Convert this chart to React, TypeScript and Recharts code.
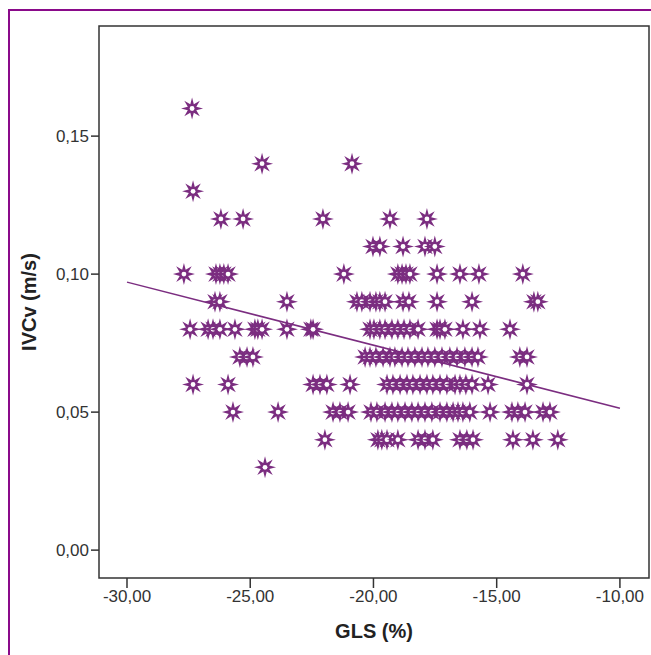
import { ScatterChart, Scatter, XAxis, YAxis, ReferenceArea, ReferenceLine } from 'recharts';

// GLS (%) values of the cases, grouped by their IVCv (m/s) level
const gls016 = [-27.36];
const gls014 = [-24.52, -20.87];
const gls013 = [-27.32];
const gls012 = [-26.19, -25.29, -22.05, -19.33, -17.83];
const gls011 = [-20.02, -19.74, -18.8, -17.91, -17.51];
const gls010 = [-27.69, -26.39, -26.23, -26.07, -25.9, -21.2, -19.01, -18.84, -18.68, -18.52, -17.42, -16.49, -15.72, -13.94];
const gls009 = [-26.43, -26.23, -23.51, -20.67, -20.47, -20.14, -19.9, -19.74, -19.53, -18.8, -18.56, -17.42, -16.0, -13.49, -13.33];
const gls008 = [-27.44, -26.71, -26.51, -26.23, -25.62, -24.81, -24.69, -24.52, -23.51, -22.54, -22.45, -20.14, -19.98, -19.74, -19.53, -19.25, -19.01, -18.76, -18.52, -18.19, -17.42, -17.3, -17.1, -16.37, -15.68, -14.46];
const gls007 = [-25.42, -25.13, -24.89, -20.34, -20.14, -19.9, -19.61, -19.33, -19.13, -18.84, -18.6, -18.32, -18.03, -17.79, -17.51, -17.22, -16.9, -16.61, -16.29, -16.0, -15.76, -14.06, -13.77];
const gls006 = [-27.32, -25.9, -22.45, -22.17, -21.89, -20.95, -19.45, -19.21, -18.92, -18.64, -18.4, -18.11, -17.83, -17.59, -17.3, -17.02, -16.69, -16.49, -16.25, -16.0, -15.35, -13.77];
const gls005 = [-25.7, -23.87, -21.64, -21.36, -21.03, -20.1, -19.86, -19.53, -19.25, -19.01, -18.72, -18.44, -18.19, -17.91, -17.63, -17.3, -17.02, -16.77, -16.57, -16.37, -16.09, -15.27, -14.38, -14.14, -13.85, -13.12, -12.84];
const gls004 = [-21.97, -19.82, -19.66, -19.45, -19.01, -18.19, -17.91, -17.59, -16.49, -16.21, -15.96, -14.34, -13.53, -12.52];
const gls003 = [-24.4];

const ivcvLevels = [0.16, 0.14, 0.13, 0.12, 0.11, 0.1, 0.09, 0.08, 0.07, 0.06, 0.05, 0.04, 0.03];
const glsByLevel = [gls016, gls014, gls013, gls012, gls011, gls010, gls009, gls008, gls007, gls006, gls005, gls004, gls003];

// fit line end points
const fitX = [-30, -10];
const fitY = [0.0971, 0.0514];

const xTicks = [-30, -25, -20, -15, -10];
const yTicks = [0, 0.05, 0.1, 0.15];
const X_DOMAIN = [-31.136, -8.82];
const Y_DOMAIN = [-0.0101, 0.1899];

const points = glsByLevel.flatMap((list, i) => list.map(x => ({ x, y: ivcvLevels[i] })));

const PURPLE = '#7b2d80';
const FONT = '"Liberation Sans", Arial, sans-serif';

const fmt = (v: number) => v.toFixed(2).replace('.', ',');

function starPath(cx: number, cy: number, outer: number, inner: number) {
  let d = '';
  for (let i = 0; i < 16; i++) {
    const r = i % 2 === 0 ? outer : inner;
    const a = (Math.PI / 8) * i - Math.PI / 2;
    d += `${i === 0 ? 'M' : 'L'}${cx + r * Math.cos(a)},${cy + r * Math.sin(a)}`;
  }
  return d + 'Z';
}

function Star(props: any) {
  const { cx, cy } = props;
  if (cx == null || cy == null) return null;
  return (
    <g>
      <path d={starPath(cx, cy, 11, 4.6)} fill={PURPLE} />
      <circle cx={cx} cy={cy} r={2.4} fill="#fff" />
    </g>
  );
}

export default function App() {
  return (
    <div style={{ position: 'absolute', left: 0, top: 0, width: 651, height: 655, overflow: 'hidden', background: '#fff' }}>
      {/* purple frame, only top and left edges are inside the picture */}
      <div
        style={{
          position: 'absolute',
          left: 8,
          top: 9,
          width: 700,
          height: 700,
          borderLeft: '2px solid #8a0a8a',
          borderTop: '2px solid #8a0a8a'
        }}
      />
      <div style={{ position: 'absolute', left: 0, top: 0 }}>
        <ScatterChart width={651} height={655} margin={{ top: 26, right: 2, bottom: 0, left: 20 }}>
          <XAxis
            dataKey="x"
            type="number"
            domain={X_DOMAIN}
            ticks={xTicks}
            tickFormatter={fmt}
            allowDataOverflow
            height={77}
            tickSize={10}
            axisLine={false}
            tickLine={{ stroke: '#333', strokeWidth: 1.5 }}
            tick={{ fill: '#333', fontSize: 17, fontFamily: FONT }}
            label={{
              value: 'GLS (%)',
              position: 'insideBottom',
              offset: 17,
              style: { fill: '#222', fontSize: 20, fontWeight: 'bold', fontFamily: FONT }
            }}
          />
          <YAxis
            dataKey="y"
            type="number"
            domain={Y_DOMAIN}
            ticks={yTicks}
            tickFormatter={fmt}
            allowDataOverflow
            width={79}
            tickSize={8}
            axisLine={false}
            tickLine={{ stroke: '#333', strokeWidth: 1.5 }}
            tick={{ fill: '#333', fontSize: 17, fontFamily: FONT }}
            label={{
              value: 'IVCv (m/s)',
              angle: -90,
              position: 'insideLeft',
              offset: 9,
              style: { textAnchor: 'middle', fill: '#222', fontSize: 20, fontWeight: 'bold', fontFamily: FONT }
            }}
          />
          <ReferenceArea
            x1={X_DOMAIN[0]}
            x2={X_DOMAIN[1]}
            y1={Y_DOMAIN[0]}
            y2={Y_DOMAIN[1]}
            fill="none"
            stroke="#333"
            strokeWidth={1.5}
            ifOverflow="visible"
          />
          <Scatter data={points} shape={<Star />} isAnimationActive={false} />
          <ReferenceLine
            segment={[
              { x: fitX[0], y: fitY[0] },
              { x: fitX[1], y: fitY[1] }
            ]}
            stroke={PURPLE}
            strokeWidth={1.5}
            ifOverflow="visible"
          />
        </ScatterChart>
      </div>
    </div>
  );
}
